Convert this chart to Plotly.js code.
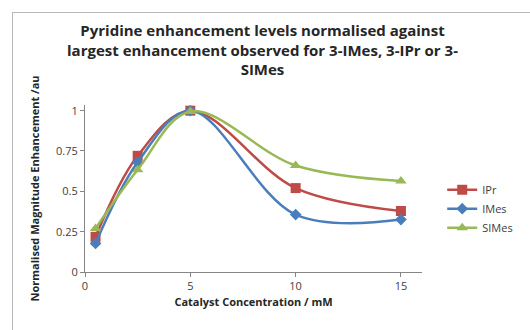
<!DOCTYPE html>
<html><head><meta charset="utf-8">
<script src="https://cdn.plot.ly/plotly-3.0.1.min.js"></script>
<style>
body{margin:0;padding:0;background:#fff;}
#frame{position:absolute;left:12px;top:12px;width:540px;height:340px;border:1px solid #b8b8b8;}
#chart{position:absolute;left:0;top:0;width:530px;height:330px;}
</style></head>
<body>
<div id="frame"></div>
<div id="chart"></div>
<script>
const concentration = [0.5, 2.5, 5, 10, 15];
const ipr = [0.218, 0.72, 1.0, 0.52, 0.378];
const imes = [0.177, 0.68, 1.0, 0.356, 0.325];
const simes = [0.27, 0.634, 0.995, 0.66, 0.564];
const seriesNames = ['IPr', 'IMes', 'SIMes'];
const yTicks = [0, 0.25, 0.5, 0.75, 1];
const yTickText = ['0', '0.25', '0.5', '0.75', '1'];
const xTicks = [0, 5, 10, 15];
const titleText = '<b>Pyridine enhancement levels normalised against<br>largest enhancement observed for 3-IMes, 3-IPr or 3-<br>SIMes</b>';

function tr(y, name, color, sym, size){
  return {x: concentration, y: y, name: name, type: 'scatter', mode: 'lines+markers',
    line: {color: color, width: 2.5, shape: 'spline', smoothing: 1},
    marker: {color: color, symbol: sym, size: size}};
}
const data = [
  tr(ipr, seriesNames[0], '#BE4B48', 'square', 10),
  tr(imes, seriesNames[1], '#4A7EBB', 'diamond', 9),
  tr(simes, seriesNames[2], '#98B954', 'triangle-up', 10)
];
const font = 'Open Sans, Liberation Sans, sans-serif';
const layout = {
  width: 530, height: 330,
  margin: {l: 85, r: 97, t: 105, b: 58},
  paper_bgcolor: 'rgba(0,0,0,0)', plot_bgcolor: 'rgba(0,0,0,0)',
  annotations: [{text: titleText, xref: 'paper', yref: 'paper', x: 0.526, y: 1.52,
    xanchor: 'center', yanchor: 'top', showarrow: false, align: 'center',
    font: {family: font, size: 15, color: '#262626'}}],
  xaxis: {range: [0, 16], tickvals: xTicks, showgrid: false, zeroline: false,
    showline: true, linecolor: '#868686', linewidth: 1, ticks: 'outside', ticklen: 4, tickcolor: '#868686',
    tickfont: {family: font, size: 11, color: '#404040'},
    title: {text: '<b>Catalyst Concentration / mM</b>', font: {family: font, size: 11, color: '#262626'}, standoff: 6}},
  yaxis: {range: [0, 1.035], tickvals: yTicks, ticktext: yTickText, showgrid: false, zeroline: false,
    showline: true, linecolor: '#868686', linewidth: 1, ticks: 'outside', ticklen: 4, tickcolor: '#868686',
    tickfont: {family: font, size: 11, color: '#404040'},
    title: {text: '<b>Normalised Magnitude Enhancement /au</b>', font: {family: font, size: 11, color: '#262626'}, standoff: 14}},
  legend: {x: 1.06, y: 0.58, xanchor: 'left', yanchor: 'top', font: {family: font, size: 11, color: '#404040'},
    bgcolor: 'rgba(0,0,0,0)', tracegroupgap: 0, itemwidth: 30},
  showlegend: true
};
Plotly.newPlot('chart', data, layout, {displayModeBar: false, staticPlot: true});
</script>
</body></html>
